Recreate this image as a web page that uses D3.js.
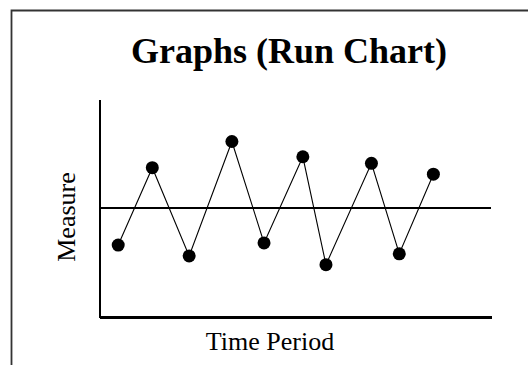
<!DOCTYPE html>
<html>
<head>
<meta charset="utf-8">
<script src="https://cdn.jsdelivr.net/npm/d3@7"></script>
<style>
  html,body{margin:0;padding:0;background:#fff;overflow:hidden;}
  text{font-family:"Liberation Serif","Times New Roman",serif;fill:#000;}
</style>
</head>
<body>
<svg id="chart" width="528" height="365"></svg>
<script>
// data
const periods  = [4.9, 13.6, 23.0, 33.9, 42.1, 52.0, 57.9, 69.5, 76.6, 85.3];
const measures = [3.3, 6.85, 2.8, 8.05, 3.4, 7.35, 2.4, 7.05, 2.9, 6.55];
const meanLevel = 5;
const titleText = 'Graphs (Run Chart)',
      xLabel = 'Time Period',
      yLabel = 'Measure';

const size = {width:528, height:365},
      plot = {left:99, right:491, top:99, bottom:317};

const svg = d3.select('#chart');

// frame around the slide (runs off the right and bottom edges)
svg.append('path')
    .attr('d', `M11.5,${size.height+5} V10.5 H${size.width+5}`)
    .attr('fill','none').attr('stroke','#333').attr('stroke-width',1.8);

const x = d3.scaleLinear().domain([0,100]).range([plot.left, plot.right]),
      y = d3.scaleLinear().domain([0,10]).range([plot.bottom, plot.top]);

// mean line
svg.append('line')
    .attr('x1', x(0)).attr('x2', x(100))
    .attr('y1', y(meanLevel)).attr('y2', y(meanLevel))
    .attr('stroke','#000').attr('stroke-width',1.3)
    .attr('shape-rendering','crispEdges');

// axes as plain lines, no ticks
const yAxis = d3.axisLeft(y).tickValues([]).tickSizeOuter(0);
const xAxis = d3.axisBottom(x).tickValues([]).tickSizeOuter(0);
svg.append('g').attr('transform',`translate(${plot.left},0)`).call(yAxis)
    .select('path.domain').attr('stroke','#000').attr('stroke-width',2)
    .attr('shape-rendering','crispEdges');
svg.append('g').attr('transform',`translate(0,${plot.bottom})`).call(xAxis)
    .select('path.domain').attr('stroke','#000').attr('stroke-width',3)
    .attr('shape-rendering','crispEdges');

const pts = periods.map((p,i)=> ({p, m:measures[i]}));

svg.append('path')
    .datum(pts)
    .attr('d', d3.line().x(d=> x(d.p)).y(d=> y(d.m)))
    .attr('fill','none').attr('stroke','#000').attr('stroke-width',1.1);

svg.selectAll('circle.pt')
    .data(pts).join('circle').classed('pt',true)
    .attr('cx', d=> x(d.p)).attr('cy', d=> y(d.m)).attr('r',6.5)
    .attr('fill','#000');

svg.append('text')
    .attr('x',289).attr('y',63)
    .attr('text-anchor','middle')
    .style('font-size','36px').style('font-weight','bold')
    .text(titleText);

svg.append('text')
    .attr('x',270).attr('y',350)
    .attr('text-anchor','middle')
    .style('font-size','26px')
    .text(xLabel);

svg.append('text')
    .attr('transform','translate(75,217) rotate(-90)')
    .attr('text-anchor','middle')
    .style('font-size','26px')
    .text(yLabel);
</script>
</body>
</html>
